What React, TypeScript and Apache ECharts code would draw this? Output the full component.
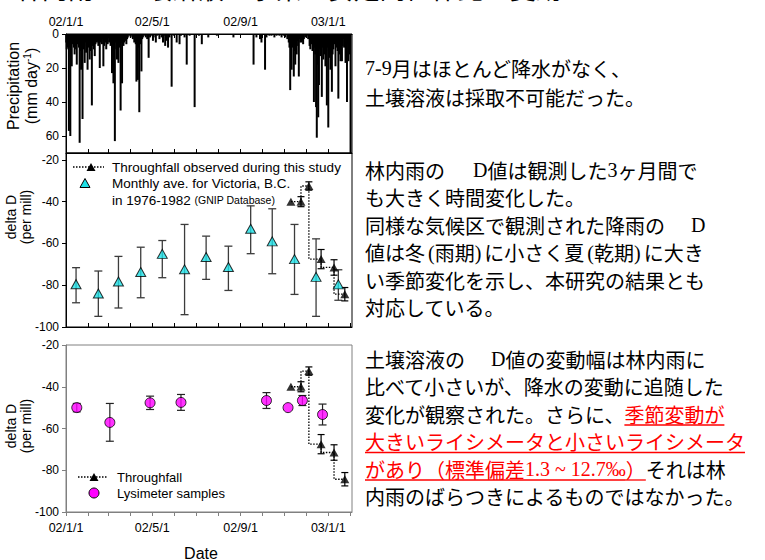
import React, { useEffect, useRef } from "react";
import * as echarts from "echarts";

// ---------- data ----------
const START = Date.UTC(2002, 0, 1);
const END = Date.UTC(2003, 1, 3);
const DAY_MS = 86400000;
const ts = (s: string) => Date.UTC(+s.slice(0, 4), +s.slice(5, 7) - 1, +s.slice(8, 10));

const monthTicks = [
  "2002-01-01", "2002-02-01", "2002-03-01", "2002-04-01", "2002-05-01", "2002-06-01", "2002-07-01",
  "2002-08-01", "2002-09-01", "2002-10-01", "2002-11-01", "2002-12-01", "2003-01-01", "2003-02-01",
];
const labelMonths = ["2002-01-01", "2002-05-01", "2002-09-01", "2003-01-01"];
const precipTicks = [0, 20, 40, 60];
const deltaTicks = [-100, -80, -60, -40, -20];

// daily precipitation: [day offset from 2002-01-01, mm]
const precipDayMm: [number, number][] = [
  [0, 5], [1, 9], [2, 8], [3, 6], [4, 57], [5, 8], [6, 60], [7, 10], [8, 19], [9, 6],
  [10, 4], [11, 8], [12, 12], [13, 7], [14, 9], [15, 18], [16, 6], [17, 5], [18, 8], [19, 64],
  [20, 10], [21, 21], [22, 7], [23, 50], [24, 6], [25, 9], [26, 17], [27, 5], [28, 11], [29, 7],
  [30, 21], [31, 8], [32, 6], [33, 15], [34, 10], [35, 5], [36, 42], [37, 7], [38, 4], [39, 9],
  [40, 13], [41, 6], [42, 3], [43, 5], [44, 4], [45, 7], [46, 3], [47, 20], [48, 5], [49, 4],
  [50, 6], [51, 3], [52, 19], [53, 7], [54, 4], [55, 5], [56, 9], [57, 3], [58, 6], [59, 2],
  [60, 5], [61, 3], [62, 7], [63, 4], [64, 23], [65, 6], [66, 29], [67, 8], [68, 63], [69, 5],
  [70, 9], [71, 15], [72, 6], [73, 17], [74, 4], [75, 8], [76, 45], [77, 5], [78, 29], [79, 3],
  [80, 7], [81, 5], [82, 2], [83, 4], [84, 6], [85, 3], [86, 2], [88, 1], [90, 2], [92, 1],
  [93, 3], [94, 2], [95, 5], [96, 4], [97, 6], [98, 28], [99, 5], [100, 27], [101, 8], [102, 46],
  [103, 6], [104, 4], [105, 22], [106, 3], [107, 2], [109, 1], [111, 2], [113, 3], [115, 14], [117, 2],
  [119, 1], [121, 4], [122, 2], [125, 5], [127, 1], [130, 3], [133, 2], [135, 5], [137, 1], [138, 7],
  [140, 4], [142, 8], [144, 2], [147, 31], [150, 1], [154, 5], [158, 6], [160, 1], [165, 2], [168, 18],
  [172, 1], [179, 43], [185, 1], [189, 6], [198, 2], [210, 1], [233, 2], [261, 18], [265, 2], [270, 3],
  [272, 5], [277, 21], [279, 2], [283, 1], [286, 1], [290, 2], [293, 1], [297, 1], [300, 2], [303, 1],
  [305, 2], [308, 3], [310, 5], [311, 8], [312, 33], [313, 6], [314, 21], [315, 8], [316, 4], [317, 25],
  [318, 10], [319, 18], [320, 6], [321, 12], [322, 4], [323, 7], [324, 25], [325, 3], [326, 5], [327, 2],
  [328, 5], [329, 4], [330, 6], [331, 3], [333, 2], [335, 1], [337, 3], [339, 7], [340, 9], [341, 4],
  [342, 6], [343, 10], [344, 8], [345, 40], [346, 8], [347, 12], [348, 43], [349, 61], [350, 18], [351, 49],
  [352, 30], [353, 9], [354, 13], [355, 6], [356, 37], [357, 8], [358, 15], [359, 12], [360, 5], [361, 19],
  [362, 10], [363, 42], [364, 8], [365, 55], [366, 14], [367, 5], [368, 21], [369, 7], [370, 34], [371, 12],
  [372, 9], [373, 6], [374, 4], [375, 19], [376, 8], [377, 5], [378, 10], [379, 38], [380, 6], [381, 12],
  [382, 16], [383, 4], [384, 16], [385, 7], [386, 3], [387, 8], [388, 5], [389, 17], [390, 9], [391, 40],
  [392, 6], [393, 16], [394, 12], [395, 8], [396, 70],
];

// Monthly average for Victoria, B.C. (GNIP)
const victoriaDates = [
  "2002-01-15", "2002-02-15", "2002-03-15", "2002-04-15", "2002-05-15", "2002-06-15", "2002-07-15",
  "2002-08-15", "2002-09-15", "2002-10-15", "2002-11-15", "2002-12-15", "2003-01-15",
];
const victoriaMean = [-79.5, -84, -78.2, -73.7, -65, -72.4, -66.5, -71.3, -53, -59, -67.5, -76, -79.6];
const victoriaHigh = [-71.6, -73.2, -66.2, -61.8, -58.6, -50.9, -56.5, -61.3, -42, -43.4, -50.9, -57.8, -72.6];
const victoriaLow = [-88.4, -94.9, -90.9, -86, -76.4, -94.1, -77.2, -82.5, -64.9, -74.5, -84.4, -94.9, -87.2];

// Throughfall observed during this study
const tfDates = ["2002-11-10", "2002-11-24", "2002-12-05", "2002-12-22", "2003-01-09", "2003-01-24"];
const tfMean = [-40, -40, -32.5, -67.5, -71.5, -84.3];
const tfErr = [0, 2.4, 2, 4.6, 3.7, 3.2];

// Lysimeter samples
const lysDates = ["2002-01-16", "2002-03-03", "2002-04-28", "2002-06-10", "2002-10-07", "2002-11-06", "2002-11-26", "2002-12-24"];
const lysMean = [-50, -57.1, -47.7, -47.5, -46.6, -50, -46.6, -53.3];
const lysHigh = [-48, -48, -44.5, -43.7, -42.8, -50, -44.2, -48.3];
const lysLow = [-52, -66.1, -50.9, -51.3, -50.4, -50, -49, -58.3];

// ---------- helpers ----------
const FONT = "Liberation Sans, Arial, sans-serif";
const CJK = '"Noto Sans CJK JP"';
const SERIF = '"Liberation Serif"';

const fmt = (v: number) => {
  const d = new Date(v);
  return `${String(d.getUTCFullYear()).slice(2)}/${d.getUTCMonth() + 1}/${d.getUTCDate()}`;
};

function makeX(gridIndex: number, position: string, color: string, showLabels: boolean, inside: boolean, margin: number) {
  return {
    type: "value",
    gridIndex,
    position,
    min: START,
    max: END,
    axisLine: { show: true, lineStyle: { color, width: 1 } },
    axisTick: { show: true, inside, length: 4, customValues: monthTicks.map(ts), lineStyle: { color } },
    axisLabel: {
      show: showLabels,
      customValues: labelMonths.map(ts),
      formatter: (v: number) => fmt(v),
      color: "#000",
      fontSize: 12.5,
      fontFamily: FONT,
      margin,
    },
    splitLine: { show: false },
  };
}

function makeY(gridIndex: number, min: number, max: number, ticks: number[], color: string, inverse = false) {
  return {
    type: "value",
    gridIndex,
    min,
    max,
    inverse,
    axisLine: { show: true, lineStyle: { color } },
    axisTick: { show: true, length: 4, customValues: ticks, lineStyle: { color } },
    axisLabel: { customValues: ticks, color: "#000", fontSize: 12, fontFamily: FONT, margin: 7 },
    splitLine: { show: false },
  };
}

const errBar = (color: string, cap: number, lw: number) => (_p: any, api: any) => {
  const x = api.value(0);
  const a = api.coord([x, api.value(1)]);
  const b = api.coord([x, api.value(2)]);
  const st = { stroke: color, lineWidth: lw };
  return {
    type: "group",
    children: [
      { type: "line", shape: { x1: a[0], y1: a[1], x2: b[0], y2: b[1] }, style: st },
      { type: "line", shape: { x1: a[0] - cap, y1: a[1], x2: a[0] + cap, y2: a[1] }, style: st },
      { type: "line", shape: { x1: b[0] - cap, y1: b[1], x2: b[0] + cap, y2: b[1] }, style: st },
    ],
  };
};

type Seg = { t?: string; serif?: boolean; red?: boolean; gap?: number };

function buildLine(ctx: CanvasRenderingContext2D, segs: Seg[], x0: number, y: number, size: number) {
  const els: any[] = [];
  let x = x0;
  for (const s of segs) {
    if (s.gap) {
      x += s.gap;
      continue;
    }
    const fam = s.serif ? SERIF : CJK;
    const font = `${size}px ${fam}`;
    ctx.font = font;
    const w = ctx.measureText(s.t || "").width;
    els.push({
      type: "text",
      x,
      y,
      style: {
        text: s.t,
        fill: s.red ? "#ff0000" : "#000",
        font,
        textAlign: "left",
        textVerticalAlign: "middle",
      },
    });
    if (s.red) {
      els.push({
        type: "line",
        shape: { x1: x, y1: y + 11, x2: x + w, y2: y + 11 },
        style: { stroke: "#ff0000", lineWidth: 1.3 },
      });
    }
    x += w;
  }
  return els;
}

const rotText = (text: string, x: number, y: number, size: number, rich?: any) => ({
  type: "text",
  x,
  y,
  rotation: Math.PI / 2,
  style: {
    text,
    fill: "#000",
    font: `${size}px ${FONT}`,
    textAlign: "center",
    textVerticalAlign: "middle",
    rich,
  },
});

const plainText = (text: string, x: number, y: number, size: number, align = "left", rich?: any) => ({
  type: "text",
  x,
  y,
  style: {
    text,
    fill: "#000",
    font: `${size}px ${FONT}`,
    textAlign: align,
    textVerticalAlign: "middle",
    rich,
  },
});

export default function App() {
  const ref = useRef<HTMLDivElement>(null);

  useEffect(() => {
    if (!ref.current) return;
    const chart = echarts.init(ref.current, undefined, { renderer: "svg" });
    const ctx = document.createElement("canvas").getContext("2d") as CanvasRenderingContext2D;

    const precipData = precipDayMm.map(([d, v]) => [START + d * DAY_MS, v]);
    const vicPts = victoriaDates.map((d, i) => [ts(d), victoriaMean[i]]);
    const vicErr = victoriaDates.map((d, i) => [ts(d), victoriaHigh[i], victoriaLow[i]]);
    const tfPts = tfDates.map((d, i) => [ts(d), tfMean[i]]);
    const tfErrData = tfDates
      .map((d, i) => [ts(d), tfMean[i] + tfErr[i], tfMean[i] - tfErr[i]])
      .filter((_r, i) => tfErr[i] > 0);
    const lysPts = lysDates.map((d, i) => [ts(d), lysMean[i]]);
    const lysErr = lysDates
      .map((d, i) => [ts(d), lysHigh[i], lysLow[i]])
      .filter((r) => r[1] !== r[2]);

    const TS = 20;
    const textLines: any[] = [];
    const addPara = (lines: Seg[][], ys: number[]) =>
      lines.forEach((l, i) => textLines.push(...buildLine(ctx, l, 365, ys[i], TS)));

    addPara(
      [
        [{ t: "7-9", serif: true }, { t: "月はほとんど降水がなく、" }],
        [{ t: "土壌溶液は採取不可能だった。" }],
      ],
      [68, 97]
    );
    addPara(
      [
        [{ t: "林内雨の" }, { gap: 28 }, { t: "D", serif: true }, { t: "値は観測した" }, { t: "3", serif: true }, { t: "ヶ月間で" }],
        [{ t: "も大きく時間変化した。" }],
        [{ t: "同様な気候区で観測された降雨の" }, { gap: 26 }, { t: "D", serif: true }],
        [
          { t: "値は冬" }, { gap: 3 }, { t: "(", serif: true }, { t: "雨期" }, { t: ")", serif: true }, { gap: 3 },
          { t: "に小さく夏" }, { gap: 3 }, { t: "(", serif: true }, { t: "乾期" }, { t: ")", serif: true }, { gap: 3 },
          { t: "に大き" },
        ],
        [{ t: "い季節変化を示し、本研究の結果とも" }],
        [{ t: "対応している。" }],
      ],
      [170, 197.5, 225, 252.5, 280, 307]
    );
    addPara(
      [
        [{ t: "土壌溶液の" }, { gap: 26 }, { t: "D", serif: true }, { t: "値の変動幅は林内雨に" }],
        [{ t: "比べて小さいが、降水の変動に追随した" }],
        [{ t: "変化が観察された。さらに、" }, { t: "季節変動が", red: true }],
        [{ t: "大きいライシメータと小さいライシメータ", red: true }],
        [{ t: "があり（標準偏差", red: true }, { t: "1.3 ~ 12.7‰", red: true, serif: true }, { t: "）", red: true }, { t: "それは林" }],
        [{ t: "内雨のばらつきによるものではなかった。" }],
      ],
      [359, 386.5, 414, 441.5, 469, 496.5]
    );

    const legendEls: any[] = [
      { type: "line", shape: { x1: 73, y1: 167, x2: 104, y2: 167 }, style: { stroke: "#000", lineWidth: 1.3, lineDash: [1.5, 1.5] } },
      { type: "polygon", shape: { points: [[86.5, 171], [95.5, 171], [91, 163]] }, style: { fill: "#000" } },
      plainText("Throughfall observed during this study", 112, 167, 13.5),
      { type: "polygon", shape: { points: [[80, 187.5], [90, 187.5], [85, 178.5]] }, style: { fill: "#1ee0e6", stroke: "#000", lineWidth: 1 } },
      plainText("Monthly ave. for Victoria, B.C.", 112, 183, 13.5),
      plainText("{a|in 1976-1982 }{b|(GNIP Database)}", 112, 200, 13.5, "left", {
        a: { fontSize: 13.5, fontFamily: FONT, fill: "#000" },
        b: { fontSize: 10.5, fontFamily: FONT, fill: "#000" },
      }),
      { type: "line", shape: { x1: 78, y1: 477, x2: 108, y2: 477 }, style: { stroke: "#000", lineWidth: 1.3, lineDash: [1.5, 1.5] } },
      { type: "polygon", shape: { points: [[89.5, 481], [98.5, 481], [94, 473]] }, style: { fill: "#000" } },
      plainText("Throughfall", 117, 477, 13),
      { type: "circle", shape: { cx: 94, cy: 493, r: 5 }, style: { fill: "#ff00ff", stroke: "#000", lineWidth: 1 } },
      plainText("Lysimeter samples", 117, 493, 13),
    ];

    const axisNames: any[] = [
      rotText("Precipitation", 13, 86, 16),
      rotText("{a|(mm day}{s|-1}{a|)}", 31, 86, 16, {
        a: { fontSize: 16, fontFamily: FONT, fill: "#000", lineHeight: 18 },
        s: { fontSize: 10, fontFamily: FONT, fill: "#000", verticalAlign: "top", lineHeight: 18 },
      }),
      rotText("delta D", 11, 217, 14),
      rotText("(per mill)", 26, 217, 14),
      rotText("delta D", 11, 426, 14),
      rotText("(per mill)", 26, 426, 14),
      plainText("Date", 201, 553, 16, "center"),
      {
        type: "text",
        x: -6,
        y: 0,
        style: {
          text: "4.林内雨と土壌溶液の水素の安定同位体比の変動",
          fill: "#000",
          font: `26px ${CJK}`,
          textAlign: "left",
          textVerticalAlign: "bottom",
        },
      },
    ];

    const option: any = {
      animation: false,
      backgroundColor: "#fff",
      grid: [
        { left: 66, top: 34, width: 286, height: 119, show: true, borderColor: "#000", borderWidth: 1, backgroundColor: "transparent" },
        { left: 66, top: 153, width: 286, height: 174, show: true, borderColor: "#000", borderWidth: 1, backgroundColor: "transparent" },
        { left: 66, top: 345, width: 286, height: 167, show: true, borderColor: "#808080", borderWidth: 1, backgroundColor: "transparent" },
      ],
      xAxis: [
        makeX(0, "top", "#000", true, true, 6),
        makeX(0, "bottom", "#000", false, true, 6),
        makeX(1, "bottom", "#000", false, true, 6),
        makeX(2, "bottom", "#808080", true, false, 9),
      ],
      yAxis: [
        makeY(0, 0, 70, precipTicks, "#000", true),
        makeY(1, -100, -16.7, deltaTicks, "#000"),
        makeY(2, -100, -20, deltaTicks, "#808080"),
      ],
      series: [
        { type: "bar", xAxisIndex: 0, yAxisIndex: 0, data: precipData, barWidth: 2, itemStyle: { color: "#000" }, z: 2 },
        { type: "custom", xAxisIndex: 2, yAxisIndex: 1, data: vicErr, encode: { x: 0, y: [1, 2] }, renderItem: errBar("#3c3c3c", 4, 1.3), z: 3 },
        {
          type: "scatter", xAxisIndex: 2, yAxisIndex: 1, data: vicPts, symbol: "triangle", symbolSize: [10, 9],
          itemStyle: { color: "#1ee0e6", borderColor: "#000", borderWidth: 1 }, z: 5,
        },
        {
          type: "line", xAxisIndex: 2, yAxisIndex: 1, data: tfPts, step: "start", showSymbol: false, symbol: "none",
          lineStyle: { color: "#000", width: 1.3, type: [1.5, 1.5] }, z: 3,
        },
        { type: "custom", xAxisIndex: 2, yAxisIndex: 1, data: tfErrData, encode: { x: 0, y: [1, 2] }, renderItem: errBar("#000", 3.5, 1.2), z: 4 },
        { type: "scatter", xAxisIndex: 2, yAxisIndex: 1, data: tfPts, symbol: "triangle", symbolSize: [9, 8], itemStyle: { color: "#000" }, z: 6 },
        { type: "custom", xAxisIndex: 3, yAxisIndex: 2, data: lysErr, encode: { x: 0, y: [1, 2] }, renderItem: errBar("#222", 4, 1.2), z: 3 },
        {
          type: "scatter", xAxisIndex: 3, yAxisIndex: 2, data: lysPts, symbol: "circle", symbolSize: 10,
          itemStyle: { color: "#ff00ff", borderColor: "#000", borderWidth: 1 }, z: 5,
        },
        {
          type: "line", xAxisIndex: 3, yAxisIndex: 2, data: tfPts, step: "start", showSymbol: false, symbol: "none",
          lineStyle: { color: "#000", width: 1.3, type: [1.5, 1.5] }, z: 3,
        },
        { type: "custom", xAxisIndex: 3, yAxisIndex: 2, data: tfErrData, encode: { x: 0, y: [1, 2] }, renderItem: errBar("#000", 3.5, 1.2), z: 4 },
        { type: "scatter", xAxisIndex: 3, yAxisIndex: 2, data: tfPts, symbol: "triangle", symbolSize: [9, 8], itemStyle: { color: "#000" }, z: 6 },
      ],
      graphic: [...axisNames, ...legendEls, ...textLines],
    };

    chart.setOption(option);
    return () => chart.dispose();
  }, []);

  return (
    <div
      ref={ref}
      style={{ position: "fixed", left: 0, top: 0, width: 765, height: 560, background: "#fff" }}
    />
  );
}
